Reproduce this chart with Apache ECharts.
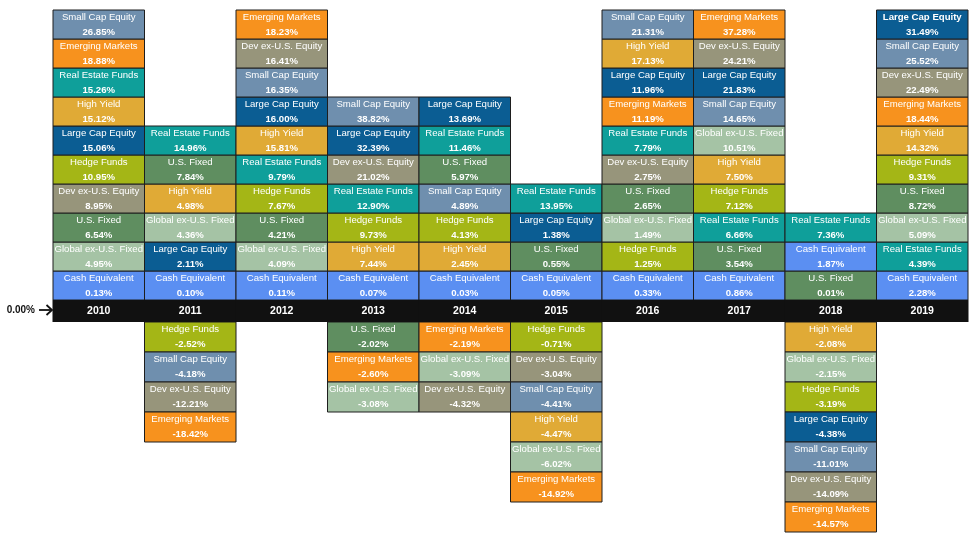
<!DOCTYPE html>
<html><head><meta charset="utf-8">
<script src="https://cdn.jsdelivr.net/npm/echarts@6/dist/echarts.min.js"></script>
<style>html,body{margin:0;padding:0;background:#fff}#c{width:979px;height:543px}</style>
</head><body><div id="c"></div>
<script>
const years = ['2010','2011','2012','2013','2014','2015','2016','2017','2018','2019'];
const assetClasses = ['Small Cap Equity','Emerging Markets','Real Estate Funds','High Yield','Large Cap Equity','Hedge Funds','Dev ex-U.S. Equity','U.S. Fixed','Global ex-U.S. Fixed','Cash Equivalent'];
const smallCap        = [26.85, -4.18, 16.35, 38.82,  4.89, -4.41, 21.31, 14.65, -11.01, 25.52];
const emergingMarkets = [18.88,-18.42, 18.23, -2.60, -2.19,-14.92, 11.19, 37.28, -14.57, 18.44];
const realEstate      = [15.26, 14.96,  9.79, 12.90, 11.46, 13.95,  7.79,  6.66,   7.36,  4.39];
const highYield       = [15.12,  4.98, 15.81,  7.44,  2.45, -4.47, 17.13,  7.50,  -2.08, 14.32];
const largeCap        = [15.06,  2.11, 16.00, 32.39, 13.69,  1.38, 11.96, 21.83,  -4.38, 31.49];
const hedgeFunds      = [10.95, -2.52,  7.67,  9.73,  4.13, -0.71,  1.25,  7.12,  -3.19,  9.31];
const devExUS         = [ 8.95,-12.21, 16.41, 21.02, -4.32, -3.04,  2.75, 24.21, -14.09, 22.49];
const usFixed         = [ 6.54,  7.84,  4.21, -2.02,  5.97,  0.55,  2.65,  3.54,   0.01,  8.72];
const globalExUS      = [ 4.95,  4.36,  4.09, -3.08, -3.09, -6.02,  1.49, 10.51,  -2.15,  5.09];
const cashEquivalent  = [ 0.13,  0.10,  0.11,  0.07,  0.03,  0.05,  0.33,  0.86,   1.87,  2.28];
const zeroLabel = '0.00%';

const seriesByAsset = [smallCap, emergingMarkets, realEstate, highYield, largeCap, hedgeFunds, devExUS, usFixed, globalExUS, cashEquivalent];
const colorByAsset = ['#6f8fae','#f7921e','#0f9f9a','#e0aa36','#0b5d93','#a4b616','#97957b','#5f8e60','#a5c3a5','#5b8ff2'];

const BAR = 22 / 29;
const NEG = 30 / 29;
const cells = [];
years.forEach((yr, xi) => {
  const items = assetClasses.map((n, k) => ({k: k, v: seriesByAsset[k][xi]}));
  const pos = items.filter(d => d.v >= 0).sort((a, b) => a.v - b.v);
  pos.forEach((d, i) => cells.push([xi, i, i + 1, d.k, d.v]));
  const neg = items.filter(d => d.v < 0).sort((a, b) => b.v - a.v);
  neg.forEach((d, i) => cells.push([xi, -BAR - (i + 1) * NEG, -BAR - i * NEG, d.k, d.v]));
});

const FONT = '"Liberation Sans", Arial, sans-serif';
const chart = echarts.init(document.getElementById('c'));
chart.setOption({
  animation: false,
  grid: {left: 53, right: 11, top: 10, bottom: 11},
  xAxis: {type: 'category', data: years, boundaryGap: true, show: false},
  yAxis: {type: 'value', min: -BAR - 7 * NEG, max: 10, show: false},
  series: [
    {
      type: 'custom',
      data: cells,
      encode: {x: 0, y: [1, 2]},
      renderItem: function (params, api) {
        const c = cells[params.dataIndex];
        const pTop = api.coord([c[0], c[2]]);
        const pBot = api.coord([c[0], c[1]]);
        const w = api.size([1, 0])[0];
        const left = pTop[0] - w / 2, top = pTop[1], h = pBot[1] - pTop[1];
        const name = assetClasses[c[3]];
        return {
          type: 'group',
          children: [
            {type: 'rect', shape: {x: left, y: top, width: w, height: h},
             style: {fill: colorByAsset[c[3]], stroke: '#1e1e1e', lineWidth: 1}},
            {type: 'text', style: {x: pTop[0], y: top + h * 0.26, text: name, fill: '#fff',
              font: (c[3] === 4 && c[0] === 9 ? 'bold ' : '') + '9.6px ' + FONT, align: 'center', verticalAlign: 'middle'}},
            {type: 'text', style: {x: pTop[0], y: top + h * 0.76, text: c[4].toFixed(2) + '%', fill: '#fff',
              font: 'bold 9.6px ' + FONT, align: 'center', verticalAlign: 'middle'}}
          ]
        };
      }
    },
    {
      type: 'custom',
      data: years.map((y, i) => [i, -BAR, 0]),
      encode: {x: 0, y: [1, 2]},
      renderItem: function (params, api) {
        const i = params.dataIndex;
        const pTop = api.coord([i, 0]);
        const pBot = api.coord([i, -BAR]);
        const w = api.size([1, 0])[0];
        const left = pTop[0] - w / 2, top = pTop[1], h = pBot[1] - pTop[1];
        const cy = top + h / 2;
        const children = [
          {type: 'rect', shape: {x: left - 0.5, y: top, width: w + 1, height: h},
           style: {fill: '#111', stroke: null}},
          {type: 'text', style: {x: pTop[0], y: cy, text: years[i], fill: '#fff',
            font: 'bold 10.5px ' + FONT, align: 'center', verticalAlign: 'middle'}}
        ];
        if (i === 0) {
          children.push(
            {type: 'text', style: {x: left - 18, y: cy - 1, text: zeroLabel, fill: '#111',
              font: 'bold 10px ' + FONT, align: 'right', verticalAlign: 'middle'}},
            {type: 'line', shape: {x1: left - 14, y1: cy - 1, x2: left - 1, y2: cy - 1},
              style: {stroke: '#111', lineWidth: 1.8}},
            {type: 'polyline', shape: {points: [[left - 6.5, cy - 6], [left - 1, cy - 1], [left - 6.5, cy + 4]]},
              style: {stroke: '#111', lineWidth: 1.8, fill: null}}
          );
        }
        return {type: 'group', children: children};
      }
    }
  ]
});
</script>
</body></html>
